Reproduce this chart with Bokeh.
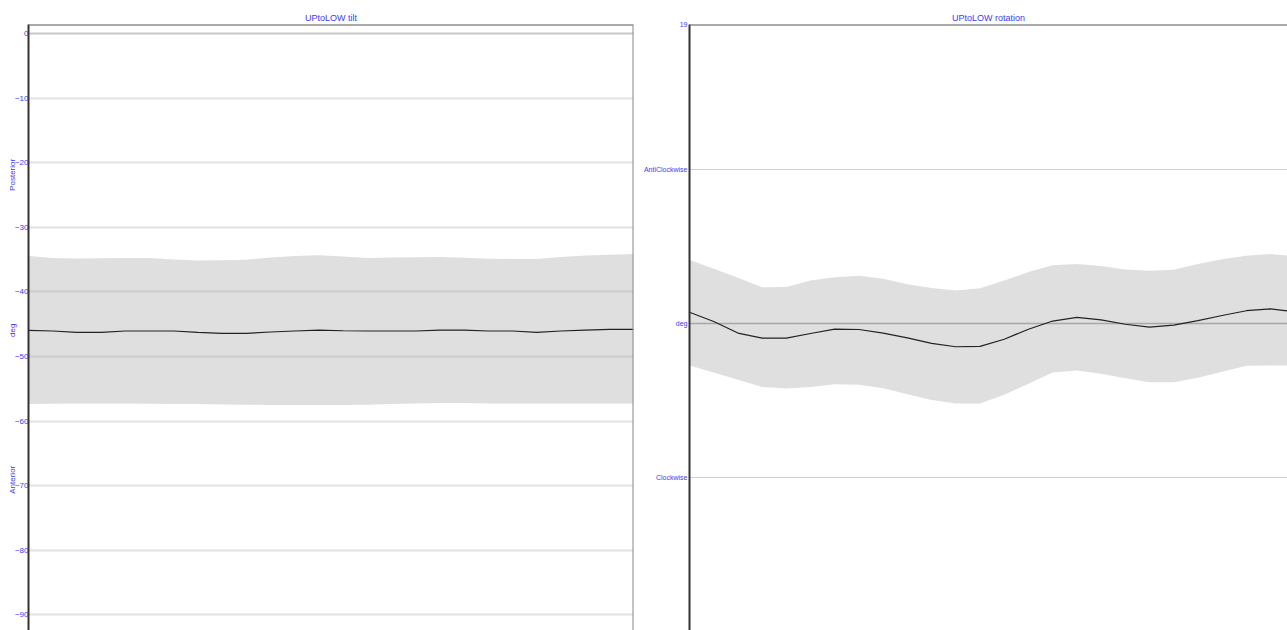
import math
from bokeh.plotting import figure
from bokeh.layouts import row
from bokeh.models import FixedTicker, Span, LinearAxis
from bokeh.embed import file_html
from bokeh.resources import INLINE

# ---- data ----
cycle = [0, 4, 8, 12, 16, 20, 24, 28, 32, 36, 40, 44, 48, 52, 56, 60, 64, 68, 72, 76, 80, 84, 88, 92, 96, 100]

tilt_mean = [-45.94, -46.04, -46.25, -46.25, -46.04, -46.04, -46.04, -46.25, -46.4, -46.4, -46.2, -46.04, -45.9,
             -46.0, -46.04, -46.04, -46.04, -45.9, -45.9, -46.04, -46.04, -46.25, -46.04, -45.9, -45.8, -45.8]
tilt_upper = [-34.42, -34.75, -34.81, -34.78, -34.74, -34.75, -34.98, -35.14, -35.09, -35.0, -34.65, -34.43, -34.32,
              -34.5, -34.73, -34.68, -34.62, -34.58, -34.71, -34.87, -34.88, -34.88, -34.6, -34.35, -34.25, -34.11]
tilt_lower = [-57.35, -57.32, -57.28, -57.25, -57.28, -57.3, -57.33, -57.35, -57.4, -57.45, -57.5, -57.5, -57.5,
              -57.5, -57.45, -57.35, -57.25, -57.18, -57.2, -57.25, -57.25, -57.25, -57.25, -57.25, -57.25, -57.25]

rot_mean = [0.73, 0.13, -0.62, -0.95, -0.95, -0.65, -0.37, -0.39, -0.62, -0.93, -1.29, -1.51, -1.49,
            -1.02, -0.37, 0.16, 0.40, 0.23, -0.05, -0.23, -0.10, 0.19, 0.52, 0.83, 0.95, 0.75]
rot_upper = [4.14, 3.56, 2.97, 2.36, 2.37, 2.79, 3.01, 3.10, 2.90, 2.55, 2.30, 2.14, 2.29,
             2.79, 3.34, 3.79, 3.86, 3.73, 3.51, 3.43, 3.49, 3.86, 4.17, 4.40, 4.51, 4.38]
rot_lower = [-2.73, -3.18, -3.65, -4.13, -4.22, -4.12, -3.94, -3.98, -4.20, -4.60, -4.97, -5.20, -5.19,
             -4.62, -3.92, -3.19, -3.06, -3.27, -3.55, -3.81, -3.81, -3.53, -3.13, -2.74, -2.73, -2.73]

tilt_ticks = [0, -10, -20, -30, -40, -50, -60, -70, -80, -90]
tilt_top = 1.4
tilt_side_labels = ["Posterior", "deg", "Anterior"]
tilt_side_pos = [-19.4, -44.9, -66.9]

rot_top = 19.42
rot_ticks = [rot_top, 10, 0, -10]
rot_tick_labels = ["19", "AntiClockwise", "deg", "Clockwise"]

BLUE = "#3a3aff"
FONT = "Liberation Sans"
BAND = "#a6a6a6"


def style(p):
    p.xaxis.visible = False
    p.outline_line_color = None
    p.yaxis.axis_line_color = "#333333"
    p.yaxis.axis_line_width = 2
    p.yaxis.major_tick_out = 0
    p.yaxis.major_tick_in = 0
    p.yaxis.minor_tick_out = 0
    p.yaxis.minor_tick_in = 0
    p.yaxis.major_label_text_color = BLUE
    p.yaxis.major_label_text_font = FONT
    p.yaxis.major_label_text_font_size = "8px"
    p.yaxis.major_label_standoff = 0
    p.xgrid.visible = False
    p.title.text_color = BLUE
    p.title.text_font = FONT
    p.title.text_font_size = "9px"
    p.title.text_font_style = "normal"
    p.title.align = "center"
    p.title.standoff = 3
    p.background_fill_color = "white"
    p.border_fill_color = "white"


# ---- left: tilt ----
p1 = figure(width=640, height=630, x_range=(0, 100), y_range=(-92.4, tilt_top),
            output_backend="svg", toolbar_location=None, title="UPtoLOW tilt",
            min_border_left=0, min_border_right=7, min_border_top=24, min_border_bottom=0)
style(p1)
p1.yaxis.ticker = FixedTicker(ticks=tilt_ticks)
p1.ygrid.ticker = FixedTicker(ticks=tilt_ticks[1:])
p1.ygrid.grid_line_color = "#e2e2e2"
p1.ygrid.grid_line_width = 2
p1.add_layout(Span(location=0, dimension="width", line_color="#c8c8c8", line_width=2, level="underlay"))
p1.varea(x=cycle, y1=tilt_lower, y2=tilt_upper, fill_color=BAND, fill_alpha=0.36)
p1.line(cycle, tilt_mean, line_color="#222222", line_width=1.2)
p1.add_layout(Span(location=tilt_top, dimension="width", line_color="#555555", line_width=2))
p1.add_layout(Span(location=100, dimension="height", line_color="#888888", line_width=2))

side = LinearAxis(ticker=FixedTicker(ticks=tilt_side_pos),
                  major_label_overrides={v: s for v, s in zip(tilt_side_pos, tilt_side_labels)},
                  major_label_orientation=math.pi / 2,
                  axis_line_color=None, major_tick_out=0, major_tick_in=0,
                  minor_tick_out=0, minor_tick_in=0,
                  major_label_text_color=BLUE, major_label_text_font=FONT,
                  major_label_text_font_size="8px", major_label_standoff=-1)
p1.add_layout(side, "left")

# ---- right: rotation ----
p2 = figure(width=647, height=630, x_range=(0, 98.8), y_range=(-19.94, rot_top),
            output_backend="svg", toolbar_location=None, title="UPtoLOW rotation",
            min_border_left=49, min_border_right=0, min_border_top=24, min_border_bottom=0)
style(p2)
p2.yaxis.major_label_text_font_size = "7px"
p2.yaxis.major_label_standoff = 2
p2.yaxis.ticker = FixedTicker(ticks=rot_ticks)
p2.yaxis.major_label_overrides = {t: s for t, s in zip(rot_ticks, rot_tick_labels)}
p2.ygrid.ticker = FixedTicker(ticks=[10, -10])
p2.ygrid.grid_line_color = "#d0d0d0"
p2.ygrid.grid_line_width = 1
p2.add_layout(Span(location=0, dimension="width", line_color="#a8a8a8", line_width=1.5, level="underlay"))
p2.varea(x=cycle, y1=rot_lower, y2=rot_upper, fill_color=BAND, fill_alpha=0.36)
p2.line(cycle, rot_mean, line_color="#222222", line_width=1.2)
p2.add_layout(Span(location=rot_top, dimension="width", line_color="#555555", line_width=2))

layout = row(p1, p2, spacing=0)
open("out.html", "w").write(file_html(layout, INLINE))
